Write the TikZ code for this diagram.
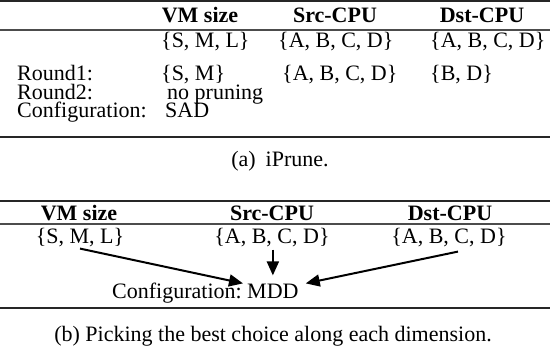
\documentclass[tikz,border=0pt]{standalone}
\usepackage{fontspec}
\setmainfont{Liberation Serif}
\usetikzlibrary{arrows.meta}
\begin{document}
\begin{tikzpicture}[x=1pt,y=-1pt,
  txt/.style={anchor=base west, inner sep=0pt, font=\fontsize{22}{26}\selectfont},
  ctxt/.style={anchor=base, inner sep=0pt, font=\fontsize{22}{26}\selectfont},
  hdr/.style={anchor=base, inner sep=0pt, font=\fontsize{22}{26}\selectfont\bfseries},
  thickrule/.style={line width=1.8pt, draw=black!85},
  thinrule/.style={line width=1.1pt, draw=black!70},
  arr/.style={line width=2pt, -{Triangle[length=14pt,width=12pt]}}]
\useasboundingbox (0,0) rectangle (550,349);
% ---------- (a) ----------
\draw[thickrule] (0,1.2) -- (550,1.2);
\node[hdr] (ha1) at (200,22) {VM size};
\node[hdr] (ha2) at (335,22) {Src-CPU};
\node[hdr] (ha3) at (482,22) {Dst-CPU};
\draw[thinrule] (0,30) -- (550,30);
\node[txt] (a01) at (161,47) {\{S, M, L\}};
\node[txt] (a02) at (278,47) {\{A, B, C, D\}};
\node[txt] (a03) at (430,47) {\{A, B, C, D\}};
\node[txt] (r1) at (17,80) {Round1:};
\node[txt] (a11) at (161,80) {\{S, M\}};
\node[txt] (a12) at (282,80) {\{A, B, C, D\}};
\node[txt] (a13) at (430,80) {\{B, D\}};
\node[txt] (r2) at (17,99) {Round2:};
\node[txt] (a21) at (167,99) {no pruning};
\node[txt] (rc) at (17,117) {Configuration:};
\node[txt] (sad) at (165,117) {SAD};
\draw[thickrule] (0,137) -- (550,137);
\node[ctxt] (capa) at (280,166) {(a)\hspace{0.45em}iPrune.};
% ---------- (b) ----------
\draw[thickrule] (0,201) -- (550,201);
\node[hdr] (hb1) at (79,220) {VM size};
\node[hdr] (hb2) at (272,220) {Src-CPU};
\node[hdr] (hb3) at (450,220) {Dst-CPU};
\draw[thinrule] (0,224) -- (550,224);
\node[ctxt] (sml) at (80,243) {\{S, M, L\}};
\node[ctxt] (srcv) at (272,243) {\{A, B, C, D\}};
\node[ctxt] (dstv) at (449,243) {\{A, B, C, D\}};
\node[txt] (conf) at (112,298) {Configuration:};
\node[txt] (mdd) at (247,298) {MDD};
\draw[arr] ([yshift=-2pt]sml.south) -- ([xshift=-4pt]mdd.north west);
\draw[arr] ([yshift=-3pt]srcv.south -| mdd.north) -- ([yshift=8pt]mdd.north);
\draw[arr] ([xshift=9pt,yshift=-5pt]dstv.south) -- ([xshift=7pt]mdd.north east);
\draw[thickrule] (0,308) -- (550,308);
\node[ctxt] (capb) at (273,341) {(b) Picking the best choice along each dimension.};
\end{tikzpicture}
\end{document}
